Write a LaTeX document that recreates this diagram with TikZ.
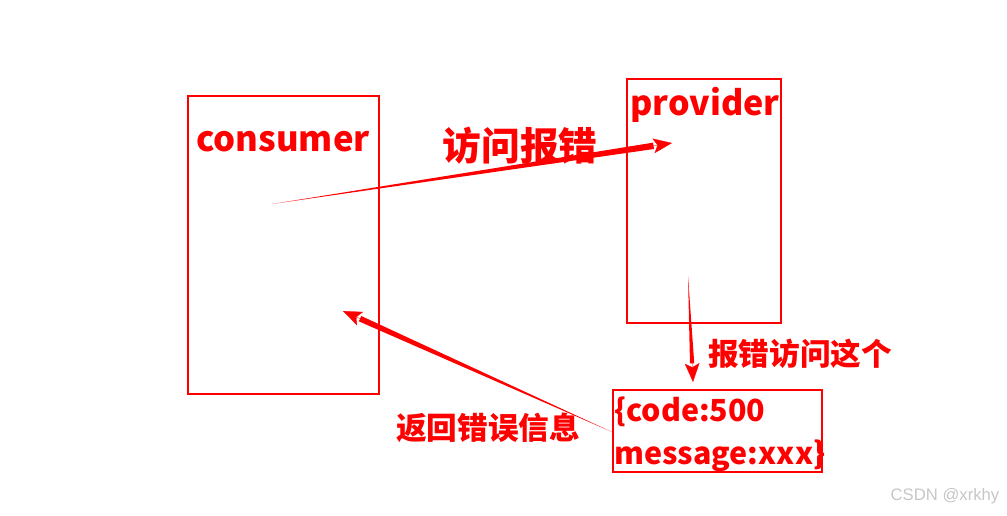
\documentclass[tikz,border=0pt]{standalone}
\usepackage{fontspec}
\newfontfamily\cjk{Noto Sans CJK SC}
\newfontfamily\wmfont{Liberation Sans}
\usepackage{tikz}
\usetikzlibrary{arrows.meta,calc}

% tapered arrow: thin at the start, thick at the tip
\newcommand\taperarrow[3]{%
  \coordinate (neck) at ($(#2)!14pt!(#1)$);
  \fill[red] (#1) -- ($(neck)!#3!90:(#1)$) -- ($(neck)!#3!-90:(#1)$) -- cycle;
  \draw[red,line width=0.2pt,-{Stealth[length=14pt,width=11pt,inset=3pt]}] ($(neck)!1pt!(#1)$) -- (#2);
}

\begin{document}
\begin{tikzpicture}[
  x=0.75pt,y=-0.75pt,
  redbox/.style={draw=red,line width=2.1pt,inner sep=0pt},
  title/.style={font=\cjk\bfseries\fontsize{26}{30}\selectfont,text=red},
  note/.style={font=\cjk\bfseries\fontsize{23}{26}\selectfont,text=red}
]
\useasboundingbox (0,0) rectangle (1007,515);

% boxes
\draw[redbox] (188,96) rectangle (379,394);
\draw[redbox] (627,79) rectangle (781,323);
\draw[redbox] (613,390) rectangle (822,472);
\node[title] (cons) at (283,142) {consumer};
\node[title,font=\cjk\bfseries\fontsize{25.5}{30}\selectfont] (prov) at (705,105) {provider};
\node[font=\cjk\bfseries\fontsize{22.8}{32}\selectfont,text=red,anchor=north west,align=left,inner sep=0pt]
  (err) at (614,397) {\{code:500\\message:xxx\}};

% arrow ends
\coordinate (consout) at (272,204);
\coordinate (provin) at (672,143);
\coordinate (provout) at (688,276);
\coordinate (errin) at (693,382);
\coordinate (errout) at (612,432);
\coordinate (consin) at (343,311);

\taperarrow{consout}{provin}{2.4pt}
\taperarrow{provout}{errin}{1.6pt}
\taperarrow{errout}{consin}{2.2pt}

% labels
\node[font=\cjk\bfseries\fontsize{29}{32}\selectfont,text=red] (call) at (520,146) {访问报错};
\node[note] (fwd) at (800,354) {报错访问这个};
\node[note] (back) at (488,428) {返回错误信息};
\node[font=\wmfont\fontsize{12.5}{14}\selectfont,text=gray!45] (mark) at (945,496) {CSDN @xrkhy};
\end{tikzpicture}
\end{document}
